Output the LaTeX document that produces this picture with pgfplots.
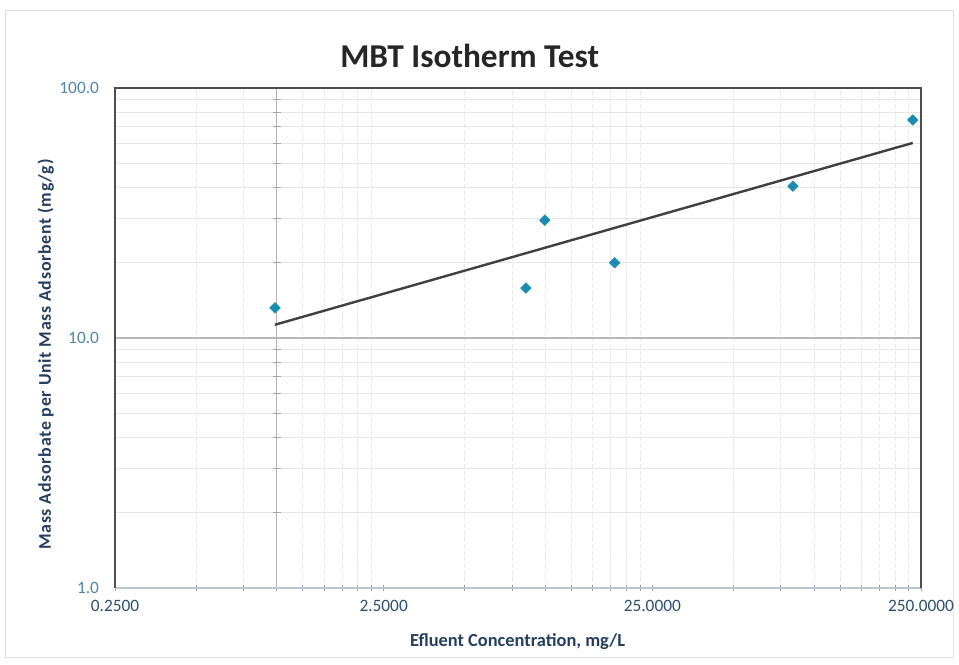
\documentclass[border=0pt]{standalone}
\usepackage{pgfplots}
\pgfplotsset{compat=1.18}
\usepackage{fontspec}
\setmainfont{Carlito}
\definecolor{framec}{HTML}{4D4D4D}
\definecolor{botaxis}{HTML}{B9C6D3}
\definecolor{gridc}{HTML}{E6E6E6}
\definecolor{ytl}{HTML}{4F86A8}
\definecolor{xtl}{HTML}{2D4E6E}
\definecolor{labc}{HTML}{243F5E}
\definecolor{markc}{HTML}{1A8CB0}
\definecolor{trendc}{HTML}{3F3F3F}
\begin{document}
\begin{tikzpicture}[x=1pt,y=1pt]
\path[use as bounding box] (-86.25,-57) rectangle (633,441);
\draw[gray!25, line width=0.8pt] (-82,-52) rectangle (629,433);
\node[font=\bfseries\fontsize{25}{28}\selectfont, text=black!85] at (266,399) {MBT Isotherm Test};
\begin{axis}[
  at={(0,0)}, anchor=south west, scale only axis,
  width=604.5pt, height=375pt,
  xmode=log, ymode=log,
  xmin=0.25, xmax=250, ymin=1, ymax=100,
  xtick={0.25,2.5,25,250},
  xticklabels={0.2500,2.5000,25.0000,250.0000},
  ytick={1,10,100},
  yticklabels={1.0,10.0,100.0},
  minor xtick={0.5,0.75,1,1.25,1.5,1.75,2,2.25,5,7.5,10,12.5,15,17.5,20,22.5,50,75,100,125,150,175,200,225},
  minor ytick={2,3,4,5,6,7,8,9,20,30,40,50,60,70,80,90},
  xtick pos=bottom, ytick pos=left,
  tick align=center,
  major tick length=5pt, minor tick length=4pt,
  xtick style={botaxis!80!black, line width=0.5pt},
  ytick style={draw=none},
  minor x grid style={gridc, line width=0.5pt, dash pattern=on 3pt off 2pt},
  minor y grid style={gridc, line width=0.6pt},
  xminorgrids=true, yminorgrids=true,
  axis line style={draw=none},
  xticklabel style={font=\fontsize{13}{15}\selectfont, text=xtl, yshift=-3pt},
  yticklabel style={font=\fontsize{13}{15}\selectfont, text=ytl, xshift=-6pt},
  clip=false,
]
% reference lines
\draw[gray!55, line width=1.2pt] (axis cs:0.25,10) -- (axis cs:250,10);
\draw[gray!60, line width=1pt] (axis cs:1,1) -- (axis cs:1,100);
\pgfplotsinvokeforeach{2,3,4,5,6,7,8,9,20,30,40,50,60,70,80,90}{
  \draw[gray!70, line width=0.6pt] ([xshift=-3pt]axis cs:1,#1) -- ([xshift=3pt]axis cs:1,#1);
}
% frame
\draw[botaxis, line width=1.5pt] (rel axis cs:0,0) -- (rel axis cs:1,0);
\draw[framec, line width=1.6pt] (rel axis cs:0,0) -- (rel axis cs:0,1) -- (rel axis cs:1,1) -- (rel axis cs:1,0);
% trend line
\addplot[no marks, color=trendc, line width=1.8pt] coordinates {(0.985,11.3) (233,60.3)};
% data
\addplot[only marks, mark=square*, mark size=2.8pt, mark options={rotate=45}, color=markc] coordinates {
(0.985,13.2) (8.46,15.85) (9.95,29.6) (18.1,20.0) (83.4,40.5) (233,74.5)
};
\end{axis}
\node[font=\bfseries\fontsize{13.8}{16}\selectfont, text=labc] at (302,-40) {Efluent Concentration, mg/L};
\node[font=\bfseries\fontsize{13.4}{16}\selectfont\addfontfeatures{LetterSpace=4}, text=labc, rotate=90] at (-52,175) {Mass Adsorbate per Unit Mass Adsorbent (mg/g)};
\end{tikzpicture}
\end{document}
